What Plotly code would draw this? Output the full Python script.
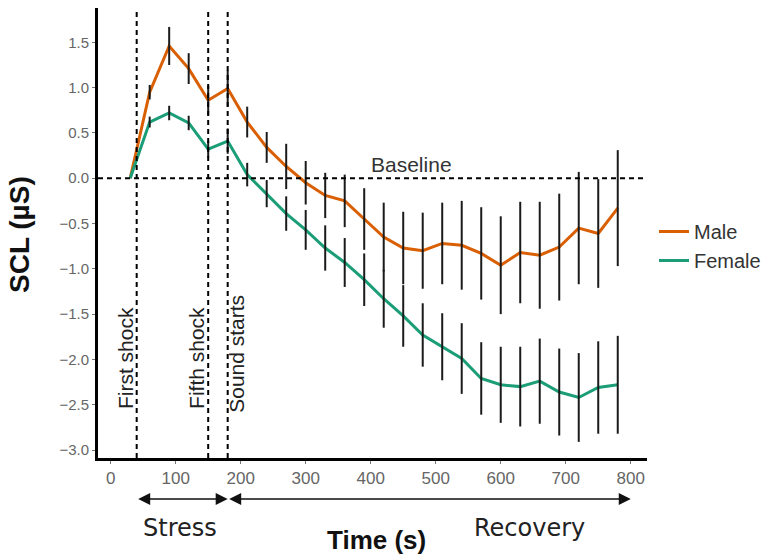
import plotly.graph_objects as go

# ---- data ----
time_s = [30, 60, 90, 120, 150, 180, 210, 240, 270, 300, 330, 360, 390, 420,
          450, 480, 510, 540, 570, 600, 630, 660, 690, 720, 750, 780]
male_mean = [0.00, 0.95, 1.46, 1.21, 0.86, 0.99, 0.62, 0.34, 0.13, -0.05, -0.19, -0.25, -0.45,
             -0.65, -0.77, -0.80, -0.72, -0.74, -0.83, -0.96, -0.82, -0.85, -0.76, -0.55, -0.61, -0.33]
male_err = [0.00, 0.08, 0.21, 0.17, 0.16, 0.20, 0.17, 0.17, 0.25, 0.24, 0.25, 0.29, 0.34,
            0.38, 0.40, 0.42, 0.45, 0.49, 0.51, 0.54, 0.56, 0.59, 0.59, 0.62, 0.60, 0.64]
female_mean = [0.00, 0.62, 0.72, 0.61, 0.32, 0.41, 0.04, -0.17, -0.39, -0.57, -0.77, -0.93, -1.12,
               -1.33, -1.52, -1.73, -1.86, -1.99, -2.21, -2.28, -2.30, -2.24, -2.36, -2.42, -2.31, -2.28]
female_err = [0.00, 0.06, 0.08, 0.08, 0.09, 0.14, 0.13, 0.15, 0.19, 0.22, 0.25, 0.27, 0.29,
              0.32, 0.34, 0.35, 0.37, 0.39, 0.40, 0.42, 0.44, 0.47, 0.48, 0.49, 0.51, 0.54]

event_times = [40, 150, 180]
event_labels = ["First shock", "Fifth shock", "Sound starts"]
event_label_x = [22, 131, 194]
event_label_y = [-1.985, -1.985, -1.94]

phase_labels = ["Stress", "Recovery"]
phase_ranges = [(40, 180), (180, 800)]
phase_label_x = [107, 644]

x_ticks = [0, 100, 200, 300, 400, 500, 600, 700, 800]
y_ticks = [-3.0, -2.5, -2.0, -1.5, -1.0, -0.5, 0.0, 0.5, 1.0, 1.5]

male_color = "#D95F02"
female_color = "#1B9E77"
FONT = "Liberation Sans, Arial, sans-serif"

# plot-area geometry (pixels)
L, R, T, B = 98, 130, 8, 99
PW, PH = 777 - L - R, 557 - T - B


def px_x(p):
    return (p - L) / PW


def px_y(p):
    return (557 - B - p) / PH


fig = go.Figure()
fig.add_trace(go.Scatter(x=time_s, y=male_mean, mode="lines", name="Male",
                         line=dict(color=male_color, width=3)))
fig.add_trace(go.Scatter(x=time_s, y=female_mean, mode="lines", name="Female",
                         line=dict(color=female_color, width=3)))
for mean, err in [(male_mean, male_err), (female_mean, female_err)]:
    fig.add_trace(go.Scatter(x=time_s, y=mean, mode="markers", showlegend=False,
                             marker=dict(size=1, opacity=0), hoverinfo="skip",
                             error_y=dict(type="data", array=err, visible=True,
                                          color="#1a1a1a", thickness=2, width=0)))

dash = "5px,4px"
for t in event_times:
    fig.add_shape(type="line", x0=t, x1=t, y0=0, y1=1, xref="x", yref="paper",
                  line=dict(color="black", width=2, dash=dash))
fig.add_shape(type="line", x0=0, x1=1, y0=0, y1=0, xref="paper", yref="y",
              line=dict(color="black", width=2, dash=dash))

ann = []
ann.append(dict(x=463, y=0.15, xref="x", yref="y", text="Baseline", showarrow=False,
                xanchor="center", yanchor="middle",
                font=dict(family=FONT, size=21, color="#333")))
for lx, ly, lab in zip(event_label_x, event_label_y, event_labels):
    ann.append(dict(x=lx, y=ly, xref="x", yref="y", text=lab, showarrow=False,
                    textangle=-90, xanchor="center", yanchor="middle",
                    font=dict(family=FONT, size=21, color="#222")))
arrow_y = px_y(499)
for (a, b) in phase_ranges:
    ann.append(dict(x=b, y=arrow_y, ax=a, ay=0, xref="x", yref="paper", axref="x", ayref="pixel",
                    text="", showarrow=True, arrowhead=2, arrowside="end+start",
                    arrowsize=1.5, arrowwidth=1.6, arrowcolor="#111", standoff=0, startstandoff=0))
for lx, lab in zip(phase_label_x, phase_labels):
    ann.append(dict(x=lx, y=px_y(528), xref="x", yref="paper", text=lab, showarrow=False,
                    xanchor="center", yanchor="middle",
                    font=dict(family="DejaVu Sans, Verdana, sans-serif", size=24, color="#222")))
ann.append(dict(x=px_x(376), y=px_y(540), xref="paper", yref="paper",
                text="<b>Time (s)</b>", showarrow=False, xanchor="center", yanchor="middle",
                font=dict(family=FONT, size=26, color="#111")))
ann.append(dict(x=px_x(19), y=px_y(235), xref="paper", yref="paper",
                text="<b>SCL (µS)</b>", showarrow=False, textangle=-90,
                xanchor="center", yanchor="middle",
                font=dict(family=FONT, size=28, color="#111")))

fig.update_layout(
    width=777, height=557,
    margin=dict(l=L, r=R, t=T, b=B),
    paper_bgcolor="white", plot_bgcolor="white",
    annotations=ann,
    legend=dict(x=px_x(654), y=px_y(212), xanchor="left", yanchor="top",
                font=dict(family=FONT, size=20, color="#333"), bgcolor="rgba(0,0,0,0)",
                tracegroupgap=0, borderwidth=0),
    showlegend=True,
)
fig.update_xaxes(range=[-19.5, 825], tickvals=x_ticks, showgrid=False, zeroline=False,
                 showline=True, linecolor="black", linewidth=3, ticks="outside", ticklen=3,
                 tickcolor="#777", tickfont=dict(family=FONT, size=17, color="#666"))
fig.update_yaxes(range=[-3.088, 1.879], tickvals=y_ticks, tickformat=".1f", showgrid=False,
                 zeroline=False, showline=True, linecolor="black", linewidth=3, ticks="outside",
                 ticklen=3, tickcolor="#777", tickfont=dict(family=FONT, size=15, color="#666"))

fig.write_html("out.html", config={"displayModeBar": False},
               post_script="document.body.style.margin='0';")
